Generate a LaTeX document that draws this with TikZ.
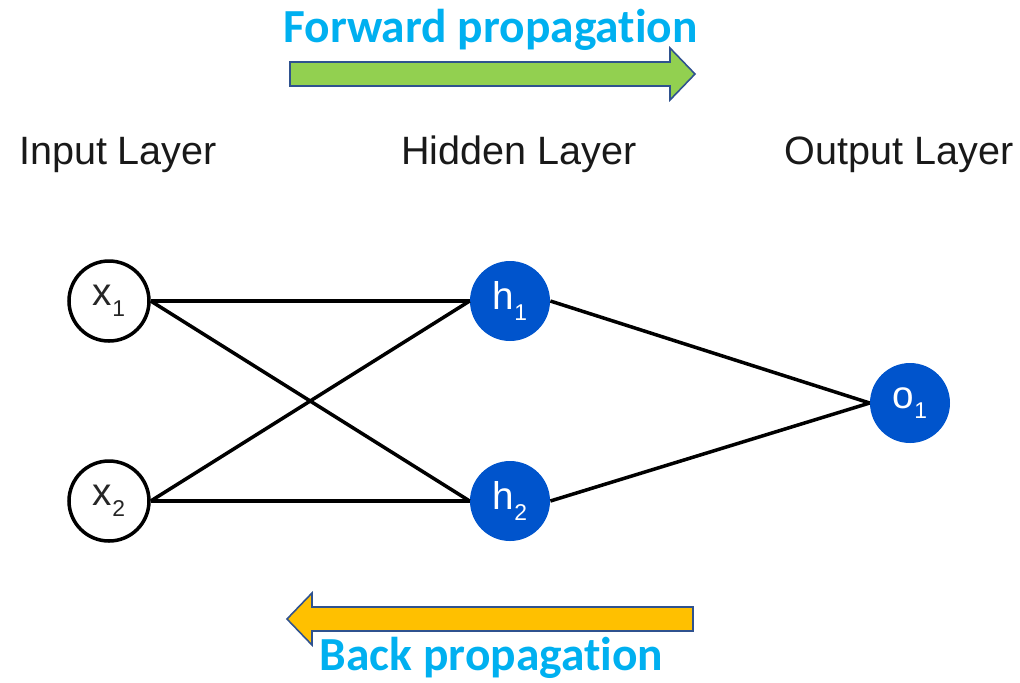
\documentclass[tikz,border=0pt]{standalone}
\usepackage{fontspec}
\setmainfont{Liberation Sans}
\newfontfamily\headfont[RawFeature={-liga;-clig;-dlig;-calt}]{Carlito}
\usetikzlibrary{positioning}
\definecolor{nodeblue}{RGB}{0,84,204}
\definecolor{headcyan}{RGB}{0,176,240}
\definecolor{fwdgreen}{RGB}{146,208,80}
\definecolor{backorange}{RGB}{255,192,0}
\definecolor{arrowline}{RGB}{47,82,143}
\newcommand{\nlab}[2]{#1\raisebox{-6pt}{\fontsize{13}{13}\selectfont #2}}
\tikzset{
  neuron/.style={circle, minimum size=1.6cm, inner sep=0pt, font=\fontsize{22}{22}\selectfont},
  inneuron/.style={neuron, draw=black, line width=2pt, fill=white, text=black!85},
  hidneuron/.style={neuron, fill=nodeblue, text=white},
  link/.style={draw=black, line width=2pt},
  layer/.style={anchor=base, font=\fontsize{22.5}{22.5}\selectfont, text=black!90},
  heading/.style={anchor=base, font=\headfont\bfseries\fontsize{27}{27}\selectfont, text=headcyan},
  propbox/.style={draw=arrowline, line width=0.9pt, line join=miter},
}

\begin{document}
\begin{tikzpicture}
      \useasboundingbox (0,0) rectangle (20.4,-13.64);

      \node[heading] (fwdtext)  at (9.81,-0.84)  {Forward propagation};
      \node[heading] (backtext) at (9.83,-13.4)  {Back propagation};

      \draw[propbox, fill=fwdgreen] (5.8,-1.24) -- (13.4,-1.24) -- (13.4,-0.96) -- (13.9,-1.48)
            -- (13.4,-2.0) -- (13.4,-1.72) -- (5.8,-1.72) -- cycle;
      \draw[propbox, fill=backorange] (13.86,-12.14) -- (6.24,-12.14) -- (6.24,-11.86) -- (5.74,-12.38)
            -- (6.24,-12.9) -- (6.24,-12.62) -- (13.86,-12.62) -- cycle;

      \node[layer] (inlab)  at (2.36,-3.28)  {Input Layer};
      \node[layer] (hidlab) at (10.38,-3.28) {Hidden Layer};
      \node[layer] (outlab) at (17.98,-3.28) {Output Layer};

      \node[inneuron]  (x1) at (2.18,-6.02)  {\nlab{x}{1}};
      \node[inneuron]  (x2) at (2.18,-10.02) {\nlab{x}{2}};
      \node[hidneuron] (h1) at (10.2,-6.02)  {\nlab{h}{1}};
      \node[hidneuron] (h2) at (10.2,-10.02) {\nlab{h}{2}};
      \node[hidneuron] (o1) at (18.2,-8.06)  {\nlab{o}{1}};

      \draw[link] (x1.east) edge[link] (h1.west)
            (x1.east) edge[link] (h2.west)
            (x2.east) edge[link] (h1.west)
            (x2.east) edge[link] (h2.west)
            (h1.east) edge[link] (o1.west)
            (h2.east) edge[link] (o1.west);
\end{tikzpicture}
\end{document}
